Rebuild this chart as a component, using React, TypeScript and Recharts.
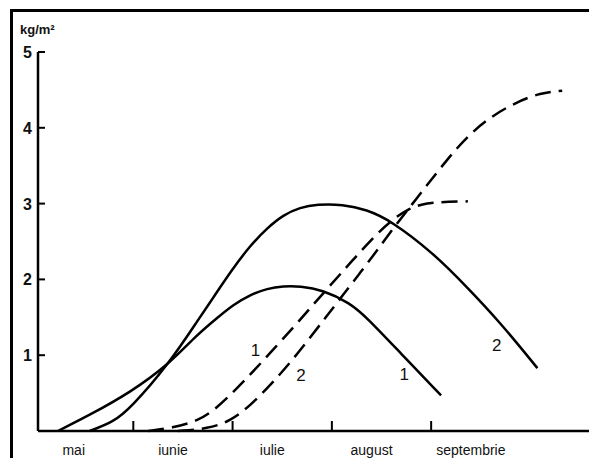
import { LineChart, Line, XAxis, YAxis, ReferenceDot } from "recharts"

const months = ["mai", "iunie", "iulie", "august", "septembrie"]
const monthBounds = [1, 2, 3, 4]
const yTicks = [1, 2, 3, 4, 5]

// solid curves (x in months from start of May, y in kg/m²)
const solid1 = [
  { x: 0.24, y: 0 },
  { x: 0.56, y: 0.21 },
  { x: 0.97, y: 0.51 },
  { x: 1.35, y: 0.87 },
  { x: 1.64, y: 1.27 },
  { x: 1.87, y: 1.52 },
  { x: 2.0, y: 1.66 },
  { x: 2.18, y: 1.8 },
  { x: 2.35, y: 1.88 },
  { x: 2.51, y: 1.91 },
  { x: 2.68, y: 1.91 },
  { x: 2.91, y: 1.86 },
  { x: 3.18, y: 1.69 },
  { x: 3.35, y: 1.5 },
  { x: 3.69, y: 1.03 },
  { x: 4.1, y: 0.47 },
]

const solid2 = [
  { x: 0.56, y: 0 },
  { x: 0.8, y: 0.12 },
  { x: 0.97, y: 0.3 },
  { x: 1.35, y: 0.87 },
  { x: 1.67, y: 1.5 },
  { x: 1.79, y: 1.73 },
  { x: 2.0, y: 2.14 },
  { x: 2.18, y: 2.45 },
  { x: 2.35, y: 2.68 },
  { x: 2.51, y: 2.85 },
  { x: 2.68, y: 2.95 },
  { x: 2.85, y: 2.99 },
  { x: 3.11, y: 2.99 },
  { x: 3.35, y: 2.92 },
  { x: 3.59, y: 2.78 },
  { x: 4.02, y: 2.35 },
  { x: 4.36, y: 1.9 },
  { x: 4.69, y: 1.44 },
  { x: 5.07, y: 0.83 },
]

// dashed curves
const dashed1 = [
  { x: 1.15, y: 0 },
  { x: 1.39, y: 0.04 },
  { x: 1.65, y: 0.13 },
  { x: 1.84, y: 0.3 },
  { x: 2.05, y: 0.57 },
  { x: 2.24, y: 0.83 },
  { x: 2.44, y: 1.12 },
  { x: 2.63, y: 1.39 },
  { x: 2.8, y: 1.65 },
  { x: 2.97, y: 1.9 },
  { x: 3.2, y: 2.24 },
  { x: 3.45, y: 2.6 },
  { x: 3.62, y: 2.8 },
  { x: 3.77, y: 2.93 },
  { x: 3.9, y: 2.99 },
  { x: 4.05, y: 3.02 },
  { x: 4.37, y: 3.03 },
]

const dashed2 = [
  { x: 1.45, y: 0 },
  { x: 1.75, y: 0.03 },
  { x: 1.98, y: 0.13 },
  { x: 2.19, y: 0.35 },
  { x: 2.39, y: 0.62 },
  { x: 2.58, y: 0.9 },
  { x: 2.78, y: 1.23 },
  { x: 2.95, y: 1.52 },
  { x: 3.11, y: 1.79 },
  { x: 3.28, y: 2.08 },
  { x: 3.45, y: 2.37 },
  { x: 3.62, y: 2.68 },
  { x: 3.82, y: 3.01 },
  { x: 3.92, y: 3.18 },
  { x: 4.16, y: 3.58 },
  { x: 4.36, y: 3.88 },
  { x: 4.59, y: 4.14 },
  { x: 4.86, y: 4.34 },
  { x: 5.1, y: 4.46 },
  { x: 5.32, y: 4.49 },
]

const curveLabels = [
  { x: 2.23, y: 1.07, text: "1" },
  { x: 2.69, y: 0.74, text: "2" },
  { x: 3.73, y: 0.75, text: "1" },
  { x: 4.66, y: 1.14, text: "2" },
]

const font = "'Liberation Sans', Arial, sans-serif"
const xTicks = [...months.map((_, i) => i + 0.4), ...monthBounds].sort((a, b) => a - b)

const XTick = ({ x, y, payload }: any) => {
  const v = payload.value
  if (Number.isInteger(v)) {
    return <line x1={x} x2={x} y1={y} y2={y - 10} stroke="#000" strokeWidth={2} />
  }
  return (
    <text x={x} y={y + 24} textAnchor="middle" fontSize={14} fontFamily={font} fill="#111">
      {months[Math.round(v - 0.4)]}
    </text>
  )
}

const YTick = ({ x, y, payload }: any) => (
  <g>
    <line x1={x} x2={x + 7} y1={y} y2={y} stroke="#000" strokeWidth={2} />
    <text x={x - 6} y={y + 6} textAnchor="end" fontSize={16} fontWeight="bold" fontFamily={font} fill="#111">
      {payload.value}
    </text>
  </g>
)

const CurveLabel = ({ viewBox, value }: any) => (
  <text x={viewBox.x} y={viewBox.y + 6} textAnchor="middle" fontSize={17} fontFamily={font} fill="#111">
    {value}
  </text>
)

export default function App() {
  return (
    <div style={{ position: "absolute", left: 0, top: 0, width: 589, height: 458, background: "#fff", overflow: "hidden" }}>
      <div
        style={{
          position: "absolute",
          left: 10,
          top: 9,
          width: 600,
          height: 470,
          borderLeft: "3px solid #000",
          borderTop: "3px solid #000",
        }}
      />
      <div style={{ position: "absolute", left: 20, top: 22, fontSize: 13, fontWeight: "bold", fontFamily: font, color: "#111" }}>
        kg/m²
      </div>
      <LineChart width={589} height={458} margin={{ top: 52, right: 0, left: 8, bottom: 0 }}>
        <XAxis
          type="number"
          dataKey="x"
          domain={[0.04, 5.59]}
          ticks={xTicks}
          interval={0}
          allowDataOverflow
          height={27}
          tickSize={0}
          tickMargin={0}
          tickLine={false}
          tick={<XTick />}
          axisLine={{ stroke: "#000", strokeWidth: 2.5 }}
        />
        <YAxis
          type="number"
          dataKey="y"
          domain={[0, 5]}
          ticks={yTicks}
          interval={0}
          width={30}
          tickSize={0}
          tickMargin={0}
          tickLine={false}
          tick={<YTick />}
          axisLine={{ stroke: "#000", strokeWidth: 2.5 }}
        />
        <Line data={solid1} dataKey="y" type="basis" stroke="#000" strokeWidth={2.5} dot={false} isAnimationActive={false} />
        <Line data={solid2} dataKey="y" type="basis" stroke="#000" strokeWidth={2.5} dot={false} isAnimationActive={false} />
        <Line data={dashed1} dataKey="y" type="basis" stroke="#000" strokeWidth={2.5} strokeDasharray="16 8" dot={false} isAnimationActive={false} />
        <Line data={dashed2} dataKey="y" type="basis" stroke="#000" strokeWidth={2.5} strokeDasharray="16 8" dot={false} isAnimationActive={false} />
        {curveLabels.map((l, i) => (
          <ReferenceDot key={i} x={l.x} y={l.y} r={0} fill="none" stroke="none" label={<CurveLabel value={l.text} />} />
        ))}
      </LineChart>
    </div>
  )
}
